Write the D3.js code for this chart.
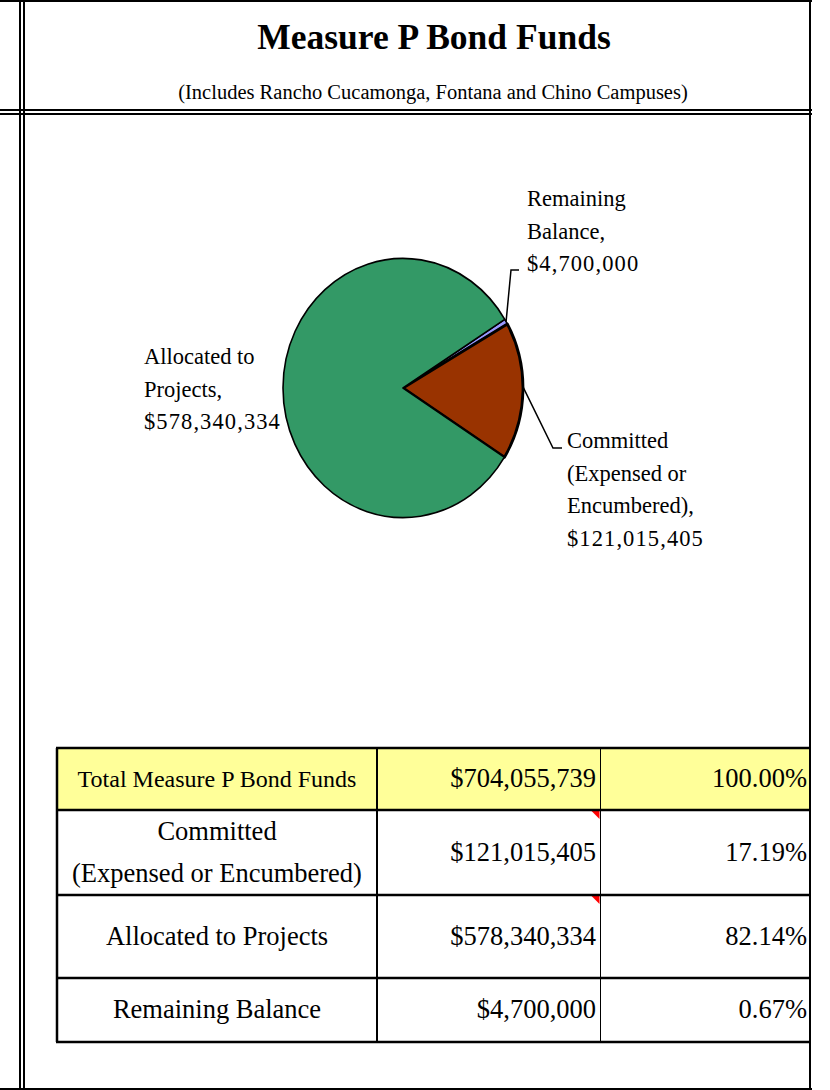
<!DOCTYPE html>
<html>
<head>
<meta charset="utf-8">
<script src="https://cdn.jsdelivr.net/npm/d3@7"></script>
<style>
  body { margin: 0; background: #fff; }
  svg { display: block; }
  text { font-family: "Liberation Serif", "DejaVu Serif", serif; fill: #000; }
</style>
</head>
<body>
<script>
// chart values
var categories = ["Committed (Expensed or Encumbered)", "Allocated to Projects", "Remaining Balance"];
var amounts = [121015405, 578340334, 4700000];
var totalLabel = "Total Measure P Bond Funds";
var total = 704055739;
var colors = ["#993300", "#339966", "#9999FF"];

// label wording, split the way the picture wraps it
var pieLabelLines = [["Committed", "(Expensed or", "Encumbered),"], ["Allocated to", "Projects,"], ["Remaining", "Balance,"]];
var tableLabelLines = [["Committed", "(Expensed or Encumbered)"], ["Allocated to Projects"], ["Remaining Balance"]];

// clockwise order of the slices in the pie
var sliceOrder = [2, 0, 1];

var W = 830, H = 1090;
var fmtMoney = d3.format("$,");
var fmtPct = d3.format(".2%");

var svg = d3.select("body").append("svg")
  .attr("width", W)
  .attr("height", H);

// ---- frame ----
var frame = svg.append("g")
  .attr("stroke", "#000")
  .attr("stroke-width", 2);

[[0, 1, 812, 1], [0, 110, 812, 110], [0, 114, 812, 114], [0, 1089, 812, 1089],
 [20, 0, 20, H], [24, 0, 24, H], [810, 0, 810, H]].forEach(function(l){
  frame.append("line")
    .attr("x1", l[0]).attr("y1", l[1])
    .attr("x2", l[2]).attr("y2", l[3]);
});

// ---- titles ----
svg.append("text")
  .attr("x", 434).attr("y", 49)
  .attr("text-anchor", "middle")
  .attr("font-size", 35.5)
  .attr("font-weight", "bold")
  .text("Measure P Bond Funds");

svg.append("text")
  .attr("x", 433).attr("y", 99)
  .attr("text-anchor", "middle")
  .attr("font-size", 20.5)
  .text("(Includes Rancho Cucamonga, Fontana and Chino Campuses)");

// ---- pie ----
var cx = 403, cy = 388, r = 120, stretch = 1.08;
var start = 58 * Math.PI / 180;

var pieData = sliceOrder.map(function(i){ return {idx: i, value: amounts[i]}; });

var pie = d3.pie()
  .sort(null)
  .value(function(d){ return d.value; })
  .startAngle(start)
  .endAngle(start + 2 * Math.PI);

var arc = d3.arc().innerRadius(0).outerRadius(r);

var pieG = svg.append("g")
  .attr("transform", "translate(" + cx + "," + cy + ") scale(1," + stretch + ")");

var arcs = pie(pieData);

pieG.selectAll("path.slice")
  .data(arcs)
  .enter().append("path")
  .attr("class", "slice")
  .attr("d", arc)
  .attr("fill", function(d){ return colors[d.data.idx]; })
  .attr("stroke", "#000")
  .attr("stroke-width", function(d){ return d.data.idx === 0 ? 2.8 : 1.6; })
  .attr("stroke-linejoin", "round")
  .attr("vector-effect", "non-scaling-stroke");

// point on the rim for a slice, in page coordinates
function rimPoint(d, frac){
  var a = d.startAngle + (d.endAngle - d.startAngle) * frac;
  return [cx + r * Math.sin(a), cy - r * Math.cos(a) * stretch];
}

// ---- pie labels ----
var labelPos = {0: {x: 567, y: 448}, 1: {x: 144, y: 364}, 2: {x: 527, y: 206}};
var elbows = {0: [[553, 448], [562, 448]], 2: [[511, 270], [519, 270]]};
var lineGap = 32.5;

arcs.forEach(function(d){
  var i = d.data.idx;
  var p = labelPos[i];
  var lines = pieLabelLines[i].slice();
  var t = svg.append("text")
    .attr("x", p.x).attr("y", p.y)
    .attr("font-size", 22.5);
  lines.forEach(function(s, k){
    t.append("tspan")
      .attr("x", p.x)
      .attr("y", p.y + k * lineGap)
      .text(s);
  });
  t.append("tspan")
    .attr("x", p.x)
    .attr("y", p.y + lines.length * lineGap)
    .attr("letter-spacing", 1.1)
    .text(fmtMoney(amounts[i]));

  if (elbows[i]) {
    var pts = [rimPoint(d, i === 0 ? 0.47 : 0.5)].concat(elbows[i]);
    svg.append("path")
      .attr("d", d3.line()(pts))
      .attr("fill", "none")
      .attr("stroke", "#000")
      .attr("stroke-width", 1.5);
  }
});

// ---- table ----
var colX = [57, 377, 600.5, 811];
var rowY = [748, 810, 895, 978, 1042];
var tableRows = [{label: [totalLabel], amount: total, head: true}].concat(
  categories.map(function(c, i){ return {label: tableLabelLines[i], amount: amounts[i], head: false}; })
);

var tbl = svg.append("g");

tbl.append("rect")
  .attr("x", colX[0]).attr("y", rowY[0])
  .attr("width", colX[3] - colX[0]).attr("height", rowY[1] - rowY[0])
  .attr("fill", "#FFFF99");

// comment markers
[1, 2].forEach(function(k){
  var x = colX[2] - 1, y = rowY[k] + 1;
  tbl.append("path")
    .attr("d", d3.line()([[x - 8, y], [x, y], [x, y + 8]]) + "Z")
    .attr("fill", "#FF0000");
});

// grid
rowY.forEach(function(y){
  tbl.append("line")
    .attr("x1", colX[0] - 1).attr("x2", colX[3])
    .attr("y1", y).attr("y2", y)
    .attr("stroke", "#000").attr("stroke-width", 2.5);
});
[[colX[0], 2.5], [colX[1], 2], [colX[2], 1], [colX[3] - 1, 2]].forEach(function(c){
  tbl.append("line")
    .attr("x1", c[0]).attr("x2", c[0])
    .attr("y1", rowY[0]).attr("y2", rowY[4])
    .attr("stroke", "#000").attr("stroke-width", c[1]);
});

tableRows.forEach(function(row, k){
  var top = rowY[k], bot = rowY[k + 1], mid = (top + bot) / 2;
  var fs = row.head ? 24 : 26.5;
  var n = row.label.length;
  var gap = 42;
  row.label.forEach(function(s, j){
    tbl.append("text")
      .attr("x", (colX[0] + colX[1]) / 2)
      .attr("y", mid + 8 + (j - (n - 1) / 2) * gap)
      .attr("text-anchor", "middle")
      .attr("font-size", fs)
      .text(s);
  });
  tbl.append("text")
    .attr("x", colX[2] - 4.5)
    .attr("y", mid + 8)
    .attr("text-anchor", "end")
    .attr("font-size", 26.5)
    .text(fmtMoney(row.amount));
  tbl.append("text")
    .attr("x", colX[3] - 4)
    .attr("y", mid + 8)
    .attr("text-anchor", "end")
    .attr("font-size", 26.5)
    .text(fmtPct(row.amount / total));
});
</script>
</body>
</html>
